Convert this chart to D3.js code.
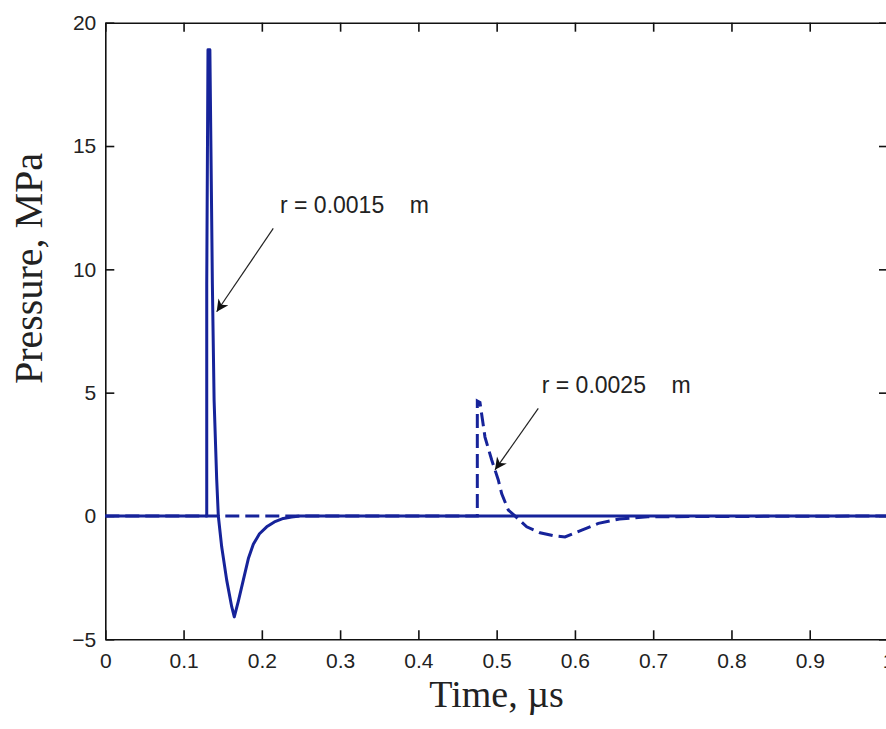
<!DOCTYPE html>
<html>
<head>
<meta charset="utf-8">
<script src="https://cdn.jsdelivr.net/npm/d3@7"></script>
<style>
  body { margin: 0; background: #fff; }
  .tick text { font-family: "Liberation Sans", Arial, sans-serif; font-size: 21px; fill: #222; }
</style>
</head>
<body>
<div class="chart"></div>
<script>
// pressure pulse, r = 0.0015 m (solid)
let timeSmall  = [0, 0.1296, 0.1296, 0.1312, 0.1336, 0.1352, 0.1368, 0.1390, 0.1423, 0.1444, 0.1487, 0.1551, 0.1615, 0.1648, 0.1700, 0.1763, 0.1830, 0.1891, 0.1970, 0.2062, 0.2160, 0.2274, 0.2380, 0.2488, 1.0];
let pressSmall = [0, 0, 9.4, 18.9, 18.9, 14.2, 9.4, 4.7, 1.5, 0, -1.25, -2.6, -3.68, -4.09, -3.45, -2.6, -1.7, -1.15, -0.72, -0.44, -0.24, -0.1, -0.04, 0, 0];

// pressure pulse, r = 0.0025 m (dashed)
let timeLarge  = [0, 0.4753, 0.4753, 0.4787, 0.4851, 0.4937, 0.5021, 0.5065, 0.5149, 0.5234, 0.5384, 0.5554, 0.5724, 0.5873, 0.6064, 0.6300, 0.6570, 0.6930, 1.0];
let pressLarge = [0, 0, 4.66, 4.6, 3.2, 2.27, 1.46, 0.9, 0.24, 0, -0.44, -0.68, -0.8, -0.85, -0.6, -0.3, -0.12, -0.03, 0];

let xTicks = [0, 0.1, 0.2, 0.3, 0.4, 0.5, 0.6, 0.7, 0.8, 0.9, 1];
let yTicks = [-5, 0, 5, 10, 15, 20];

// annotations: label, text anchor, arrow tail, arrow tip (data units)
let noteLabels = ["r = 0.0015    m", "r = 0.0025    m"];
let noteText   = [[0.2232, 12.27], [0.5576, 4.98]];
let noteTail   = [[0.2146, 11.66], [0.5532, 4.36]];
let noteTip    = [[0.1423, 8.28], [0.4979, 1.87]];

(function() {
  let width = 886, height = 729;
  let svg = d3.select('.chart').append('svg')
    .attr('width', width)
    .attr('height', height);

  svg.append('rect').attr('width', width).attr('height', height).attr('fill', '#fff');

  let xScale = d3.scaleLinear().domain([0, 1]).range([105.3, 888]);
  let yScale = d3.scaleLinear().domain([-5, 20]).range([639.3, 22.7]);

  // box axes, ticks pointing inwards
  let fmt = d3.format('');
  svg.append('g')
    .attr('transform', 'translate(0,' + yScale(-5) + ')')
    .call(d3.axisBottom(xScale).tickValues(xTicks).tickFormat(fmt).tickSizeInner(-9).tickSizeOuter(0).tickPadding(14));
  svg.append('g')
    .attr('transform', 'translate(0,' + yScale(20) + ')')
    .call(d3.axisTop(xScale).tickValues(xTicks).tickFormat('').tickSizeInner(-9).tickSizeOuter(0));
  svg.append('g')
    .attr('transform', 'translate(' + xScale(0) + ',0)')
    .call(d3.axisLeft(yScale).tickValues(yTicks).tickFormat(fmt).tickSizeInner(-9).tickSizeOuter(0).tickPadding(9));
  svg.append('g')
    .attr('transform', 'translate(' + xScale(1) + ',0)')
    .call(d3.axisRight(yScale).tickValues(yTicks).tickFormat('').tickSizeInner(-9).tickSizeOuter(0));

  svg.selectAll('.domain').attr('stroke', '#111').attr('stroke-width', 1.6);
  svg.selectAll('.tick line').attr('stroke', '#111').attr('stroke-width', 1.6);

  let line = d3.line()
    .x((d) => xScale(d[0]))
    .y((d) => yScale(d[1]));

  let seriesLarge = timeLarge.map((t, i) => [t, pressLarge[i]]);
  let seriesSmall = timeSmall.map((t, i) => [t, pressSmall[i]]);

  svg.append('path')
    .attr('d', line(seriesLarge))
    .attr('fill', 'none')
    .attr('stroke', '#16239a')
    .attr('stroke-width', 3)
    .attr('stroke-dasharray', '14,6');

  svg.append('path')
    .attr('d', line(seriesSmall))
    .attr('fill', 'none')
    .attr('stroke', '#16239a')
    .attr('stroke-width', 3)
    .attr('stroke-linejoin', 'round');

  // arrow head
  svg.append('defs').append('marker')
    .attr('id', 'head')
    .attr('viewBox', '0 0 10 10')
    .attr('refX', 10).attr('refY', 5)
    .attr('markerWidth', 16).attr('markerHeight', 12)
    .attr('markerUnits', 'userSpaceOnUse')
    .attr('orient', 'auto')
    .append('path')
      .attr('d', 'M0,0 L10,5 L0,10 L3,5 Z')
      .attr('fill', '#111');

  noteLabels.forEach((label, i) => {
    svg.append('line')
      .attr('x1', xScale(noteTail[i][0])).attr('y1', yScale(noteTail[i][1]))
      .attr('x2', xScale(noteTip[i][0])).attr('y2', yScale(noteTip[i][1]))
      .attr('stroke', '#222')
      .attr('stroke-width', 1.2)
      .attr('marker-end', 'url(#head)');
    svg.append('text')
      .attr('x', xScale(noteText[i][0]))
      .attr('y', yScale(noteText[i][1]))
      .attr('font-family', '"Liberation Sans", Arial, sans-serif')
      .attr('font-size', 23)
      .attr('fill', '#222')
      .attr('xml:space', 'preserve')
      .style('white-space', 'pre')
      .text(label);
  });

  // axis titles
  svg.append('text')
    .attr('x', 496.6)
    .attr('y', 706.7)
    .attr('text-anchor', 'middle')
    .attr('font-family', '"Liberation Serif", "Times New Roman", serif')
    .attr('font-size', 38)
    .attr('fill', '#222')
    .text('Time, µs');

  svg.append('text')
    .attr('transform', 'translate(42, 268.5)rotate(-90)')
    .attr('text-anchor', 'middle')
    .attr('font-family', '"Liberation Serif", "Times New Roman", serif')
    .attr('font-size', 40)
    .attr('fill', '#222')
    .text('Pressure, MPa');
})();
</script>
</body>
</html>
